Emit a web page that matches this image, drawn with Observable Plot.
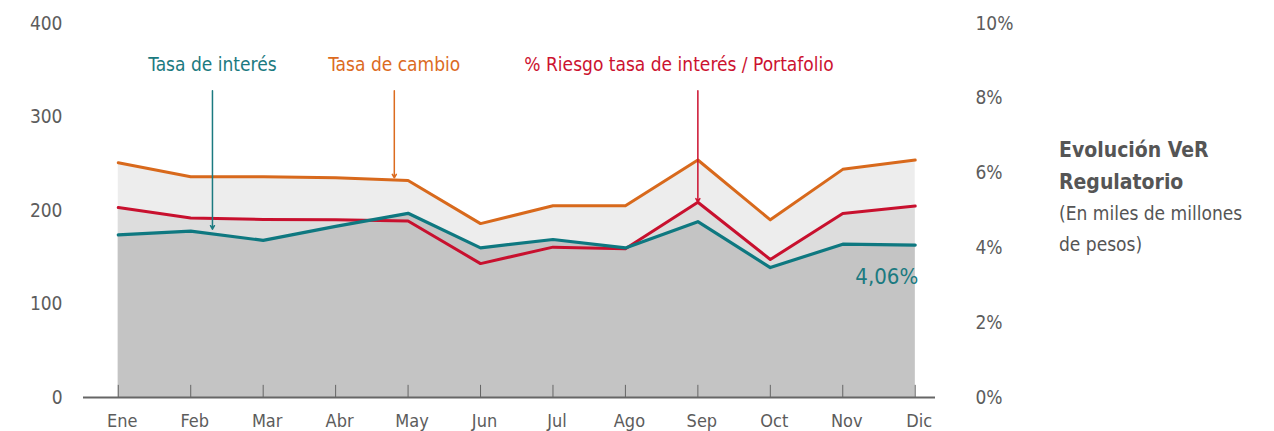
<!DOCTYPE html>
<html>
<head>
<meta charset="utf-8">
<script src="https://cdn.jsdelivr.net/npm/d3@7"></script>
<script src="https://cdn.jsdelivr.net/npm/@observablehq/plot@0.6"></script>
<style>
  html, body { margin: 0; padding: 0; background: #fff; }
  #wrap { position: relative; width: 1274px; height: 431px; }
  #side { position: absolute; left: 1059px; top: 134px; color: #555; font-family: "Liberation Sans Narrow", "DejaVu Sans Condensed", sans-serif; }
  #side .t { font-weight: bold; font-size: 21px; line-height: 32px; }
  #side .s { font-size: 19px; line-height: 31px; }
  svg text { font-family: "Liberation Sans Narrow", "DejaVu Sans Condensed", sans-serif; }
</style>
</head>
<body>
<div id="wrap">
  <div id="chart"></div>
  <div id="side">
    <div class="t">Evolución VeR<br>Regulatorio</div>
    <div class="s">(En miles de millones<br>de pesos)</div>
  </div>
</div>
<script>
const months = ["Ene","Feb","Mar","Abr","May","Jun","Jul","Ago","Sep","Oct","Nov","Dic"];
// Tasa de cambio (miles de millones)
const tasaCambio = [251, 236, 236, 235, 232, 186, 205, 205, 254, 190, 244, 254];
// Tasa de interés (miles de millones)
const tasaInteres = [174, 178, 168, 183, 197, 160, 169, 160, 188, 139, 164, 163];
// % Riesgo tasa de interés / Portafolio (right axis, %)
const riesgoPct = [5.08, 4.80, 4.76, 4.75, 4.72, 3.58, 4.02, 3.98, 5.22, 3.69, 4.92, 5.12];
const leftTicks = [0, 100, 200, 300, 400];
const rightTicks = [0, 2, 4, 6, 8, 10];
const pctScale = 40; // 10% <-> 400

const labels = [
  {text: "Tasa de interés", x: 1.30, color: "#1b7a80"},
  {text: "Tasa de cambio", x: 3.81, color: "#dc6b1f"},
  {text: "% Riesgo tasa de interés / Portafolio", x: 7.74, color: "#cc1230"}
];
const arrows = [
  {x: 1.30, y1: 328, y2: 180, color: "#1b7a80"},
  {x: 3.81, y1: 328, y2: 235, color: "#dc6b1f"},
  {x: 8.00, y1: 328, y2: 209, color: "#cc1230"}
];

const idx = months.map((m, i) => i);
const cambio = idx.map(i => ({x: i, y: tasaCambio[i]}));
const interes = idx.map(i => ({x: i, y: tasaInteres[i]}));
const riesgo = idx.map(i => ({x: i, y: riesgoPct[i] * pctScale}));

const gray = "#5c5c5c";
const chart = Plot.plot({
  width: 1274,
  height: 431,
  marginLeft: 83,
  marginRight: 339,
  marginTop: 23,
  marginBottom: 34,
  x: {domain: [-0.48, 11.28], label: null},
  y: {domain: [0, 400], label: null},
  style: {fontSize: "18px", color: gray, background: "transparent"},
  marks: [
    Plot.areaY(cambio, {x: "x", y: "y", fill: "#ededed"}),
    Plot.areaY(riesgo, {x: "x", y: "y", fill: "#dddddd"}),
    Plot.areaY(interes, {x: "x", y: "y", fill: "#c4c4c4"}),
    Plot.ruleX(idx, {x: d => d, y1: 0, y2: 13, stroke: "#666", strokeWidth: 1}),
    Plot.ruleY([0], {stroke: "#666", strokeWidth: 2}),
    Plot.line(cambio, {x: "x", y: "y", stroke: "#d8691c", strokeWidth: 3}),
    Plot.line(riesgo, {x: "x", y: "y", stroke: "#c8102e", strokeWidth: 3}),
    Plot.line(interes, {x: "x", y: "y", stroke: "#0e7880", strokeWidth: 3.2}),
    Plot.arrow(arrows, {x1: "x", x2: "x", y1: "y1", y2: "y2", stroke: "color", strokeWidth: 1.5, headLength: 4}),
    Plot.text(labels, {x: "x", y: 356, text: "text", fill: "color", fontSize: 19}),
    Plot.text(["4,06%"], {x: 11, y: 129, text: d => d, fill: "#1b7a80", fontSize: 22, textAnchor: "end", dx: 3}),
    Plot.axisY(leftTicks, {anchor: "left", tickSize: 0, tickPadding: 21, fontSize: 19, fill: gray, label: null}),
    Plot.axisY(rightTicks.map(d => d * pctScale), {anchor: "right", tickSize: 0, tickPadding: 40, fontSize: 19, fill: gray, label: null, tickFormat: d => (d / pctScale) + "%"}),
    Plot.axisX(idx, {anchor: "bottom", tickSize: 0, tickPadding: 17, fontSize: 18, fill: gray, dx: 4, label: null, tickFormat: i => months[i]})
  ]
});
document.getElementById("chart").appendChild(chart);
</script>
</body>
</html>
